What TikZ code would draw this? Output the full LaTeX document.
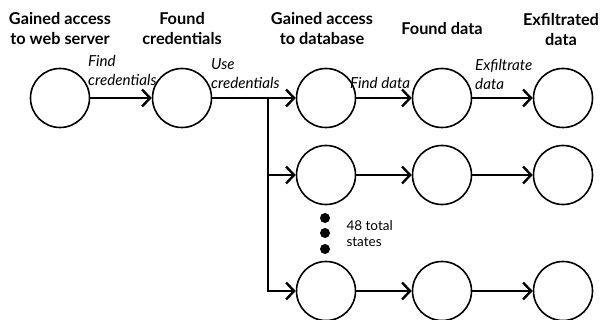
\documentclass[tikz,border=0pt]{standalone}
\usepackage{fontspec}
\setmainfont{Lato}
\usetikzlibrary{arrows.meta}
\begin{document}
\begin{tikzpicture}[x=1pt,y=-1pt,
  state/.style={circle,draw,line width=1.6pt,minimum size=59pt,inner sep=0pt},
  conn/.style={line width=2.4pt,-{Straight Barb[length=8pt,width=17pt,line width=2.4pt]}},
  head/.style={font=\fontsize{16.3}{20}\selectfont\bfseries,align=center},
  lab/.style={font=\fontsize{15.2}{19}\selectfont\itshape,align=left,anchor=south west,inner sep=0pt},
  dotn/.style={circle,fill,inner sep=0pt,minimum size=10pt}]
\useasboundingbox (0,0) rectangle (601,320);
% states
\node[state] (a1) at (60,98) {};
\node[state] (a2) at (182,98) {};
\node[state] (a3) at (326,98) {};
\node[state] (a4) at (442,98) {};
\node[state] (a5) at (563,98) {};
\node[state] (b3) at (326,175) {};
\node[state] (b4) at (442,175) {};
\node[state] (b5) at (563,175) {};
\node[state] (c3) at (326,291) {};
\node[state] (c4) at (442,291) {};
\node[state] (c5) at (563,291) {};
% headers
\node[head] (h1) at (60,29) {Gained access\\to web server};
\node[head] (h2) at (182,29) {Found\\credentials};
\node[head] (h3) at (322,29) {Gained access\\to database};
\node[head] (h4) at (442,29) {Found data};
\node[head] (h5) at (561,29) {Exfiltrated\\data};
% connectors
\draw[conn] (a1) -- (a2);
\draw[conn] (a2) -- (a3);
\coordinate (br) at (268,98);
\coordinate (brb) at (268,175);
\coordinate (brc) at (268,291);
\draw[line width=2.4pt] (br) -- (brc);
\draw[conn] ([xshift=-1.2pt]brb) -- (b3);
\draw[conn] ([xshift=-1.2pt]brc) -- (c3);
\draw[conn] (a3) -- (a4);
\draw[conn] (a4) -- (a5);
\draw[conn] (b3) -- (b4);
\draw[conn] (b4) -- (b5);
\draw[conn] (c3) -- (c4);
\draw[conn] (c4) -- (c5);
% edge labels
\node[lab] (l1) at (88,86) {Find\\credentials};
\node[lab] (l2) at (211,89) {Use\\credentials};
\node[lab] (l3) at (350,89) {Find data};
\node[lab] (l4) at (475,90) {Exfiltrate\\data};
% dots
\node[dotn] (d1) at (325,218) {};
\node[dotn] (d2) at (325,233) {};
\node[dotn] (d3) at (325,249) {};
\node[font=\fontsize{13.5}{16}\selectfont,align=left,anchor=west] (n48) at (343,234) {48 total\\states};
\end{tikzpicture}
\end{document}
